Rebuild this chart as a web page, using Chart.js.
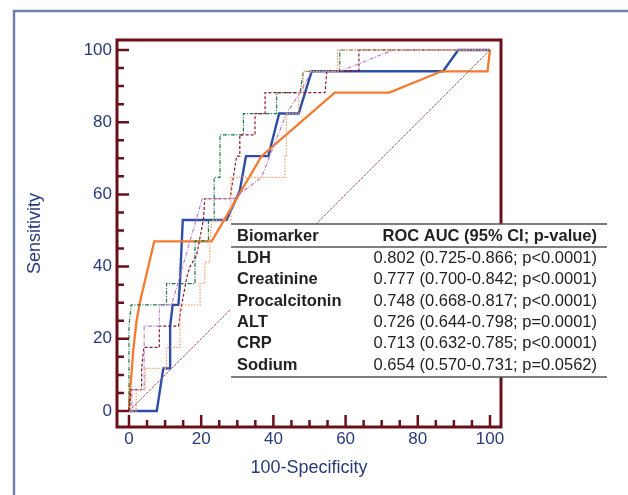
<!DOCTYPE html>
<html>
<head>
<meta charset="utf-8">
<script src="https://cdn.jsdelivr.net/npm/chart.js@4.4.1/dist/chart.umd.min.js"></script>
<style>
  html, body { margin: 0; padding: 0; background: #fff; }
</style>
</head>
<body>
<canvas id="roc" width="628" height="495"></canvas>
<script>
// ROC curves, points as [100-specificity, sensitivity]
var ldh = [[0,0],[0,23.5],[0.6,29.4],[10.4,29.4],[10.4,35.3],[18.3,35.3],[18.3,47.1],[22,47.1],[22,52.9],[23.6,52.9],[23.6,64.7],[25.2,64.7],[25.2,76.5],[31.7,76.5],[31.7,82.4],[40.9,82.4],[40.9,88.2],[47.4,88.2],[48.3,94.1],[58.4,94.1],[58.4,100],[100,100]];
var creatinine = [[0,0],[0.6,5.9],[3.5,5.9],[3.5,11.8],[4.1,17.6],[8.4,17.6],[8.4,23.5],[13.7,23.5],[14.6,29.4],[16,37],[16.9,40],[18.7,43],[20.6,52.9],[21,58.8],[28,58.8],[29.8,70.6],[30.7,70.6],[30.7,76.5],[34.9,76.5],[34.9,82.4],[37.7,82.4],[37.7,88.2],[54.3,88.2],[54.8,94.1],[63.7,94.1],[63.7,100],[100,100]];
var procalcitonin = [[0,0],[0.8,0],[0.8,5.9],[4.2,5.9],[4.2,23.5],[8.4,23.5],[8.4,29.4],[11.8,29.4],[20.3,58.8],[28.9,58.8],[36.7,64.7],[43.6,82.4],[47.4,88.2],[50.6,94.1],[58.4,94.1],[73.2,100],[100,100]];
var alt = [[0,0],[7.7,0],[9.5,11.8],[11.4,11.8],[11.4,23.5],[12.1,29.4],[13.7,29.4],[14.1,35.3],[14.9,52.9],[27,52.9],[30.7,61],[32.4,70.6],[38.6,70.6],[41.6,82.4],[47,82.4],[50.6,94.1],[87,94.1],[91.2,100],[100,100]];
var crp = [[0,0],[0.3,5.9],[0.6,9],[1.2,17],[2.1,25],[3,30],[5,38.5],[7,47],[22.9,47],[36.7,70.6],[57,88.2],[72.1,88.2],[86.6,94.1],[99.3,94.1],[100,100]];
var sodium = [[0,0],[2,0],[2,5.9],[4.5,5.9],[4.5,11.8],[10.4,11.8],[10.4,17.6],[14.1,17.6],[14.1,29.4],[19.7,29.4],[19.7,35.3],[21,35.3],[21,41.2],[22.4,41.2],[22.4,47.1],[22.9,52.9],[28.2,52.9],[28.2,64.7],[43.2,64.7],[43.2,70.6],[43.6,70.6],[43.6,82.4],[47,82.4],[47,88.2],[48.3,88.2],[48.3,94.1],[57.8,94.1],[57.8,100],[100,100]];
var diagonal = [[0,0],[100,100]];

var tickValues = [0, 20, 40, 60, 80, 100];
var biomarkers = ["LDH", "Creatinine", "Procalcitonin", "ALT", "CRP", "Sodium"];
var aucText = [
  "0.802 (0.725-0.866; p<0.0001)",
  "0.777 (0.700-0.842; p<0.0001)",
  "0.748 (0.668-0.817; p<0.0001)",
  "0.726 (0.644-0.798; p=0.0001)",
  "0.713 (0.632-0.785; p<0.0001)",
  "0.654 (0.570-0.731; p=0.0562)"
];

var axisColor = "#6b0f1a";
var textColor = "#2b3a7a";
var fontFam = "'Liberation Sans', Arial, sans-serif";

function pts(arr) {
  return arr.map(function (p) { return { x: p[0], y: p[1] }; });
}

function line(label, arr, color, width, dash) {
  return {
    label: label,
    data: pts(arr),
    showLine: true,
    borderColor: color,
    borderWidth: width,
    borderDash: dash,
    pointRadius: 0,
    fill: false,
    tension: 0
  };
}

// box, inward ticks, outer frame and the AUC table
var decor = {
  id: "decor",
  beforeDraw: function (chart) {
    var c = chart.ctx;
    c.save();
    c.strokeStyle = "#7083ab";
    c.lineWidth = 2.5;
    c.beginPath();
    c.moveTo(14, 495);
    c.lineTo(14, 11);
    c.lineTo(628, 11);
    c.stroke();
    c.restore();
  },
  afterDatasetsDraw: function (chart) {
    var c = chart.ctx, a = chart.chartArea;
    var xs = chart.scales.x, ys = chart.scales.y;
    c.save();
    c.strokeStyle = axisColor;
    c.lineWidth = 2.5;
    for (var v = 0; v <= 100; v += 5) {
      var len = v % 20 === 0 ? 12 : 7;
      var px = xs.getPixelForValue(v);
      var py = ys.getPixelForValue(v);
      c.beginPath();
      c.moveTo(px, a.bottom);
      c.lineTo(px, a.bottom - len);
      c.moveTo(a.left, py);
      c.lineTo(a.left + len, py);
      c.stroke();
    }
    c.lineWidth = 3;
    c.strokeRect(a.left, a.top, a.right - a.left, a.bottom - a.top);

    // table
    var tx = 231, tr = 607, top = 224, bot = 377;
    c.fillStyle = "#fff";
    c.fillRect(tx, top, tr - tx, bot - top);
    c.strokeStyle = "#555";
    c.lineWidth = 1.3;
    c.beginPath();
    [top, 247, bot].forEach(function (y) { c.moveTo(tx, y); c.lineTo(tr, y); });
    c.stroke();
    c.fillStyle = "#222";
    c.textBaseline = "middle";
    c.font = "bold 16.5px " + fontFam;
    c.textAlign = "left";
    c.fillText("Biomarker", 237, 236);
    c.textAlign = "right";
    c.fillText("ROC AUC (95% CI; p-value)", 597, 236);
    for (var i = 0; i < biomarkers.length; i++) {
      var y = 258.5 + i * 21.3;
      c.textAlign = "left";
      c.font = "bold 16.5px " + fontFam;
      c.fillText(biomarkers[i], 237, y);
      c.textAlign = "right";
      c.font = "16.5px " + fontFam;
      c.fillText(aucText[i], 597, y);
    }
    c.restore();
  }
};

new Chart(document.getElementById("roc").getContext("2d"), {
  type: "scatter",
  data: {
    datasets: [
      line("Diagonal", diagonal, "#b8606c", 1, [3, 1]),
      line("Sodium", sodium, "#f6a274", 1.3, [1.5, 1.5]),
      line("Procalcitonin", procalcitonin, "#b27ac8", 1.1, [4, 1.5, 1, 1.5]),
      line("Creatinine", creatinine, "#8a1a2a", 1.2, [3, 2]),
      line("LDH", ldh, "#1f7a45", 1.2, [4, 1.5, 1, 1.5]),
      line("CRP", crp, "#f47a30", 2.3, []),
      line("ALT", alt, "#2e4ea6", 2.4, [])
    ]
  },
  options: {
    responsive: false,
    animation: false,
    layout: { padding: { left: 0, top: 40, right: 127, bottom: 0 } },
    plugins: { legend: { display: false }, tooltip: { enabled: false } },
    scales: {
      x: {
        type: "linear",
        min: -3.32,
        max: 103.05,
        grid: { display: false, drawTicks: false },
        border: { display: false },
        afterBuildTicks: function (s) { s.ticks = tickValues.map(function (v) { return { value: v }; }); },
        afterFit: function (s) { s.height = 68; },
        ticks: { padding: 2, color: textColor, font: { family: fontFam, size: 17 } },
        title: { display: true, text: "100-Specificity", color: textColor, padding: { top: 0, bottom: 16 }, font: { family: fontFam, size: 18 } }
      },
      y: {
        type: "linear",
        min: -4.43,
        max: 102.77,
        grid: { display: false, drawTicks: false },
        border: { display: false },
        afterBuildTicks: function (s) { s.ticks = tickValues.map(function (v) { return { value: v }; }); },
        afterFit: function (s) { s.width = 117; },
        ticks: { padding: 5, color: textColor, font: { family: fontFam, size: 17 } },
        title: { display: true, text: "Sensitivity", color: textColor, padding: { top: 24, bottom: 0 }, font: { family: fontFam, size: 18 } }
      }
    }
  },
  plugins: [decor]
});
</script>
</body>
</html>
